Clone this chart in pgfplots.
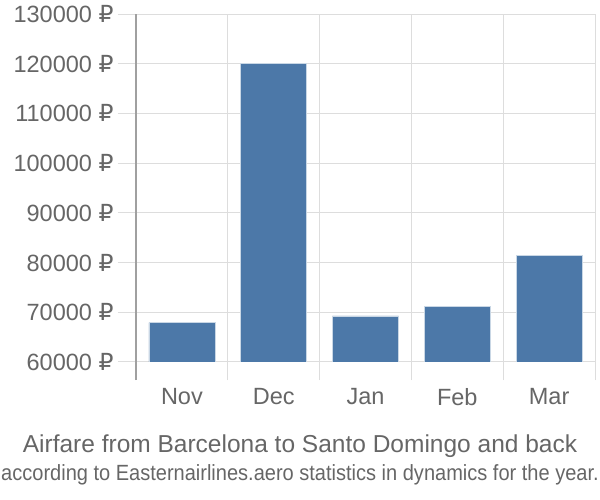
\documentclass[border=0pt]{standalone}
\usepackage{pgfplots}
\pgfplotsset{compat=1.18}
\usepackage{fontspec}
\setmainfont{Liberation Sans}
\newfontfamily\rub{DejaVu Sans}
\newcommand\R{{\rub ₽}}
\definecolor{barblue}{HTML}{4C78A8}
\definecolor{txt}{HTML}{666666}
\definecolor{gridc}{HTML}{DDDDDD}
\definecolor{axisc}{HTML}{A0A0A0}

\begin{document}
\begin{tikzpicture}
  \path[use as bounding box] (-136bp,-120bp) rectangle (464bp,380bp);
  % frame: grid, ticks and labels
  \begin{axis}[
      scale only axis,
      width=459bp, height=366bp,
      xmin=-0.5, xmax=4.5,
      ymin=56378, ymax=130000,
      axis x line*=bottom,
      x axis line style={draw=none},
      axis y line*=left,
      y axis line style={draw=axisc, line width=1.2pt},
      scaled y ticks=false,
      xtick={0,1,2,3,4},
      xticklabels={Nov,Dec,Jan,Feb,Mar},
      minor xtick={-0.5,0.5,1.5,2.5,3.5,4.5},
      xminorgrids=true,
      minor x grid style={draw=gridc, line width=1pt},
      ytick={60000,70000,...,130000},
      yticklabels={60000 \R,70000 \R,80000 \R,90000 \R,100000 \R,110000 \R,120000 \R,130000 \R},
      ymajorgrids=true,
      major y grid style={draw=gridc, line width=1pt},
      y tick style={draw=gridc, line width=1pt},
      major tick length=18bp,
      tick align=outside,
      x tick style={draw=none},
      ticklabel style={text=txt, font=\fontsize{23.5bp}{26bp}\selectfont},
      yticklabel style={xshift=-1bp},
      xticklabel style={yshift=13bp},
      clip=false,
    ]
    \addplot[draw=none] coordinates {(0,60000)};
  \end{axis}
  % bars, with their base at 60000
  \begin{axis}[
      at={(0,18bp)}, anchor=south west,
      scale only axis,
      width=459bp, height=348bp,
      xmin=-0.5, xmax=4.5,
      ymin=60000, ymax=130000,
      hide axis,
    ]
    \addplot[ybar, bar width=0.72, fill=barblue, draw=white!70!barblue, line width=0.5pt] coordinates {
      (0,67900) % Nov
      (1,120100) % Dec
      (2,69300) % Jan
      (3,71200) % Feb
      (4,81500) % Mar
    };
  \end{axis}
  \node[text=txt, font=\fontsize{24.5bp}{28bp}\selectfont] at (164bp,-66bp) {Airfare from Barcelona to Santo Domingo and back};
  \node[text=txt, font=\fontsize{22bp}{25bp}\selectfont] at (164bp,-95bp) {\scalebox{0.91}[1]{according to Easternairlines.aero statistics in dynamics for the year.}};
\end{tikzpicture}
\end{document}
